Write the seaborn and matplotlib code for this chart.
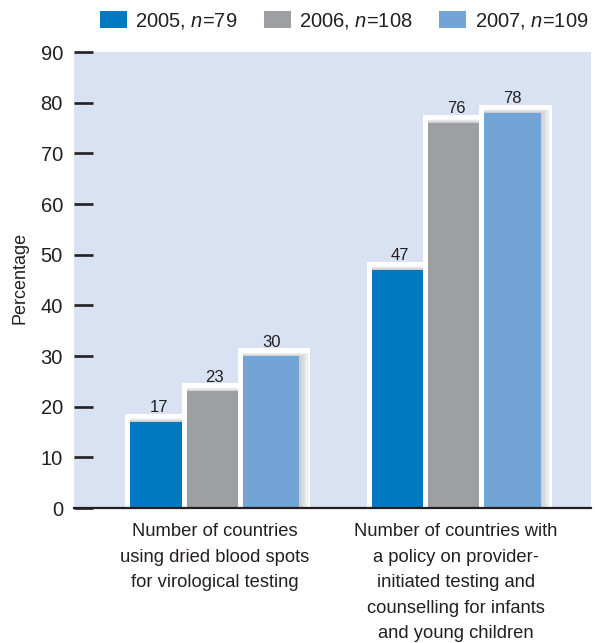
import matplotlib
matplotlib.use("Agg")
import matplotlib.pyplot as plt
from matplotlib.patches import Rectangle
import pandas as pd
import seaborn as sns

# ---- data -------------------------------------------------------------
categories = [
    "Number of countries\nusing dried blood spots\nfor virological testing",
    "Number of countries with\na policy on provider-\ninitiated testing and\ncounselling for infants\nand young children",
]
years = ["2005, $n$=79", "2006, $n$=108", "2007, $n$=109"]
values_2005 = [17, 47]
values_2006 = [23, 76]
values_2007 = [30, 78]
y_ticks = [0, 10, 20, 30, 40, 50, 60, 70, 80, 90]

colors = ["#0079c2", "#9d9fa2", "#72a5d6"]
bg = "#d9e2f3"
ink = "#231f20"

df = pd.DataFrame({
    "category": categories * 3,
    "year": [years[0]] * 2 + [years[1]] * 2 + [years[2]] * 2,
    "value": values_2005 + values_2006 + values_2007,
})

# ---- style ------------------------------------------------------------
sns.set_theme(style="white")
FONT = ["Liberation Sans", "DejaVu Sans"]
plt.rcParams["font.family"] = FONT
plt.rcParams["mathtext.fontset"] = "custom"
plt.rcParams["mathtext.it"] = "Liberation Sans:italic"
plt.rcParams["mathtext.rm"] = "Liberation Sans"

W, H = 595, 643
fig = plt.figure(figsize=(W / 100, H / 100), dpi=100)
ax_l, ax_r, ax_t, ax_b = 74, 591, 52, 508
ax = fig.add_axes([ax_l / W, 1 - ax_b / H, (ax_r - ax_l) / W, (ax_b - ax_t) / H])
ax.set_facecolor(bg)

sns.barplot(data=df, x="category", y="value", hue="year", hue_order=years,
            palette=colors, width=0.7, saturation=1, linewidth=0, ax=ax)

x_px = 241.4  # pixels per category unit
ax.set_xlim(-(215 - ax_l) / x_px, 1 + (ax_r - 456) / x_px)
ax.set_ylim(0, 90)
px_x = 1 / x_px
px_y = 90 / (ax_b - ax_t)

# white raised frame with a soft shadow behind every bar
for i, cont in enumerate(ax.containers):
    for bar in cont:
        x0 = bar.get_x()
        w = bar.get_width()
        h = bar.get_height()
        bar.set_zorder(3 + 2 * i)
        ax.add_patch(Rectangle((x0 - 5 * px_x, 0), w + 16 * px_x, h + 8 * px_y,
                               facecolor="white", edgecolor="none",
                               zorder=2 + 2 * i))
        for k in range(1, 8):
            ax.add_patch(Rectangle((x0, 0), w + k * 1.4 * px_x, h + k * 0.5 * px_y,
                                   facecolor="#7a7a7a", edgecolor="none",
                                   alpha=0.06, zorder=2.5 + 2 * i))
        ax.annotate(f"{h:g}", (x0 + w / 2, h), xytext=(0, 6.8),
                    textcoords="offset points", ha="center", va="baseline",
                    fontsize=12, color=ink, zorder=10)

# axes
for s in ["left", "top", "right"]:
    ax.spines[s].set_visible(False)
ax.spines["bottom"].set_color(ink)
ax.spines["bottom"].set_linewidth(1.6)
ax.spines["bottom"].set_zorder(20)
ax.set_yticks(y_ticks)
ax.tick_params(axis="y", direction="in", length=13.5, width=1.9, color=ink,
               pad=8, labelsize=14.5, labelcolor=ink, left=True)
ax.tick_params(axis="x", length=0, pad=11, labelsize=13.2, labelcolor=ink)
for lab in ax.get_xticklabels():
    lab.set_linespacing(1.65)
ax.set_xlabel("")
ax.set_ylabel("Percentage", fontsize=13, color=ink)
ax.yaxis.set_label_coords(-(ax_l - 29) / (ax_r - ax_l), (508 - 277.5) / (ax_b - ax_t))

handles, labels = ax.get_legend_handles_labels()
ax.get_legend().remove()
fig.legend(handles, labels, loc="center", bbox_to_anchor=(344 / W, 1 - 21 / H),
           ncol=3, frameon=False, fontsize=14.5, handlelength=1.35,
           handleheight=0.85, handletextpad=0.42, columnspacing=1.3,
           labelcolor=ink, borderpad=0, borderaxespad=0)

fig.savefig("out.png", dpi=100, facecolor="white")
